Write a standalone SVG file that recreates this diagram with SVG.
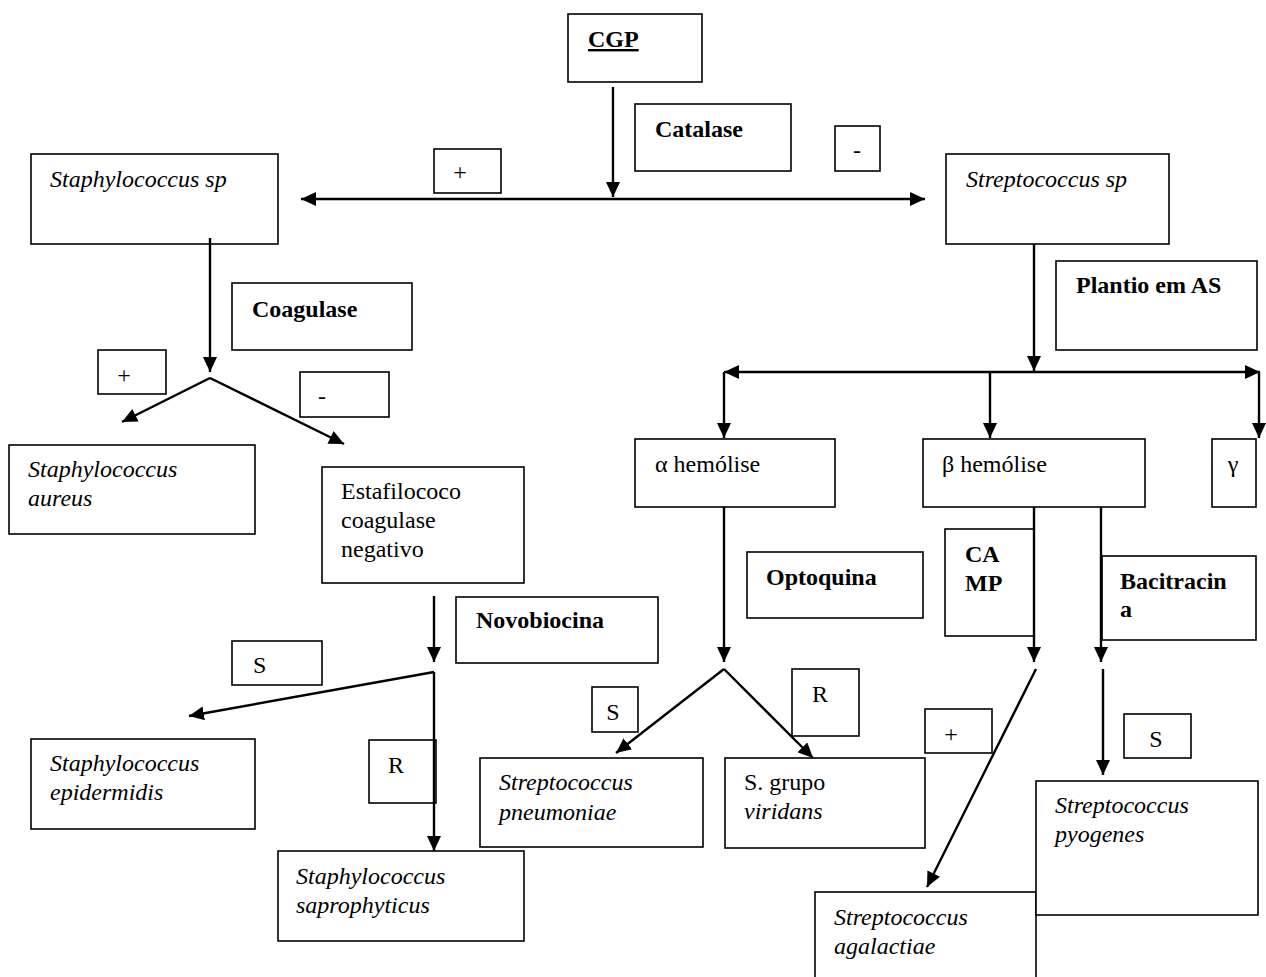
<svg xmlns="http://www.w3.org/2000/svg" width="1266" height="977" viewBox="0 0 1266 977">
<style>
.b{fill:#fff;stroke:#000;stroke-width:1.6}
text{font-family:"Liberation Serif","Times New Roman",serif;font-size:24px;fill:#000}
.i{font-style:italic}
.bd{font-weight:bold}
.c{fill:none;stroke:#000;stroke-width:2.4}
</style>
<defs>
<marker id="ah" markerUnits="userSpaceOnUse" markerWidth="16" markerHeight="14" viewBox="0 0 16 14" refX="15" refY="7" orient="auto-start-reverse">
<path d="M0,0 L15,7 L0,14 z" fill="#000"/>
</marker>
</defs>
<rect width="1266" height="977" fill="#fff"/>

<g id="cgp"><rect class="b" x="568" y="14" width="134" height="68"/><text class="bd" x="588" y="47" text-decoration="underline">CGP</text></g>
<g id="catalase"><rect class="b" x="635" y="104" width="156" height="67"/><text class="bd" x="655" y="137">Catalase</text></g>
<g id="pos1"><rect class="b" x="434" y="149" width="67" height="44"/><text x="460" y="180" text-anchor="middle">+</text></g>
<g id="neg1"><rect class="b" x="835" y="126" width="45" height="45"/><text x="857" y="158" text-anchor="middle">-</text></g>
<g id="staph"><rect class="b" x="31" y="154" width="247" height="90"/><text class="i" x="50" y="187">Staphylococcus sp</text></g>
<g id="strep"><rect class="b" x="946" y="154" width="223" height="90"/><text class="i" x="966" y="187">Streptococcus sp</text></g>
<g id="coagulase"><rect class="b" x="232" y="283" width="180" height="67"/><text class="bd" x="252" y="317">Coagulase</text></g>
<g id="pos2"><rect class="b" x="98" y="350" width="68" height="44"/><text x="124" y="383" text-anchor="middle">+</text></g>
<g id="neg2"><rect class="b" x="300" y="372" width="89" height="45"/><text x="322" y="404" text-anchor="middle">-</text></g>
<g id="aureus"><rect class="b" x="9" y="445" width="246" height="89"/><text class="i" x="28" y="477">Staphylococcus</text><text class="i" x="28" y="506">aureus</text></g>
<g id="ecn"><rect class="b" x="322" y="467" width="202" height="116"/><text x="341" y="499">Estafilococo</text><text x="341" y="528">coagulase</text><text x="341" y="557">negativo</text></g>
<g id="novobiocina"><rect class="b" x="456" y="597" width="202" height="66"/><text class="bd" x="476" y="628">Novobiocina</text></g>
<g id="s1"><rect class="b" x="232" y="641" width="90" height="44"/><text x="253" y="673">S</text></g>
<g id="r1"><rect class="b" x="369" y="740" width="67" height="63"/><text x="388" y="773">R</text></g>
<g id="epidermidis"><rect class="b" x="31" y="739" width="224" height="90"/><text class="i" x="50" y="771">Staphylococcus</text><text class="i" x="50" y="800">epidermidis</text></g>
<g id="saprophyticus"><rect class="b" x="278" y="851" width="246" height="90"/><text class="i" x="296" y="884">Staphylococcus</text><text class="i" x="296" y="913">saprophyticus</text></g>
<g id="plantio"><rect class="b" x="1056" y="261" width="201" height="89"/><text class="bd" x="1076" y="293">Plantio em AS</text></g>
<g id="alfa"><rect class="b" x="635" y="439" width="200" height="68"/><text x="655" y="472">α hemólise</text></g>
<g id="beta"><rect class="b" x="923" y="439" width="222" height="68"/><text x="942" y="472">β hemólise</text></g>
<g id="gama"><rect class="b" x="1212" y="439" width="44" height="68"/><text x="1233" y="472" text-anchor="middle">γ</text></g>
<g id="optoquina"><rect class="b" x="747" y="552" width="176" height="66"/><text class="bd" x="766" y="585">Optoquina</text></g>
<g id="camp"><rect class="b" x="945" y="529" width="89" height="107"/><text class="bd" x="965" y="562">CA</text><text class="bd" x="965" y="591">MP</text></g>
<g id="bacitracina"><rect class="b" x="1102" y="556" width="154" height="84"/><text class="bd" x="1120" y="589">Bacitracin</text><text class="bd" x="1120" y="617">a</text></g>
<g id="s2"><rect class="b" x="592" y="687" width="46" height="45"/><text x="613" y="720" text-anchor="middle">S</text></g>
<g id="r2"><rect class="b" x="792" y="669" width="67" height="67"/><text x="812" y="702">R</text></g>
<g id="pos3"><rect class="b" x="925" y="709" width="67" height="44"/><text x="951" y="742" text-anchor="middle">+</text></g>
<g id="s3"><rect class="b" x="1124" y="714" width="67" height="44"/><text x="1156" y="747" text-anchor="middle">S</text></g>
<g id="pneumoniae"><rect class="b" x="480" y="758" width="223" height="89"/><text class="i" x="499" y="790">Streptococcus</text><text class="i" x="499" y="820">pneumoniae</text></g>
<g id="viridans"><rect class="b" x="725" y="758" width="200" height="90"/><text x="744" y="790">S. grupo</text><text class="i" x="744" y="819">viridans</text></g>
<g id="agalactiae"><rect class="b" x="815" y="892" width="221" height="100"/><text class="i" x="834" y="925">Streptococcus</text><text class="i" x="834" y="954">agalactiae</text></g>
<g id="pyogenes"><rect class="b" x="1036" y="781" width="222" height="134"/><text class="i" x="1055" y="813">Streptococcus</text><text class="i" x="1055" y="842">pyogenes</text></g>

<g id="connectors">
<path class="c" d="M613,87 V197" marker-end="url(#ah)"/>
<path class="c" d="M301,199 H925" marker-start="url(#ah)" marker-end="url(#ah)"/>
<path class="c" d="M210,238 V372" marker-end="url(#ah)"/>
<path class="c" d="M210,378 L122,422" marker-end="url(#ah)"/>
<path class="c" d="M210,378 L344,444" marker-end="url(#ah)"/>
<path class="c" d="M434,596 V662" marker-end="url(#ah)"/>
<path class="c" d="M434,672 L189,716" marker-end="url(#ah)"/>
<path class="c" d="M434,672 V851" marker-end="url(#ah)"/>
<path class="c" d="M1034,244 V371" marker-end="url(#ah)"/>
<path class="c" d="M724,372 H1260" marker-start="url(#ah)" marker-end="url(#ah)"/>
<path class="c" d="M724,372 V438" marker-end="url(#ah)"/>
<path class="c" d="M990,372 V438" marker-end="url(#ah)"/>
<path class="c" d="M1259,372 V438" marker-end="url(#ah)"/>
<path class="c" d="M724,507 V662" marker-end="url(#ah)"/>
<path class="c" d="M724,669 L616,753" marker-end="url(#ah)"/>
<path class="c" d="M724,669 L813,758" marker-end="url(#ah)"/>
<path class="c" d="M1034,507 V662" marker-end="url(#ah)"/>
<path class="c" d="M1101,507 V662" marker-end="url(#ah)"/>
<path class="c" d="M1036,669 L927,887" marker-end="url(#ah)"/>
<path class="c" d="M1103,669 V775" marker-end="url(#ah)"/>
</g>
</svg>
